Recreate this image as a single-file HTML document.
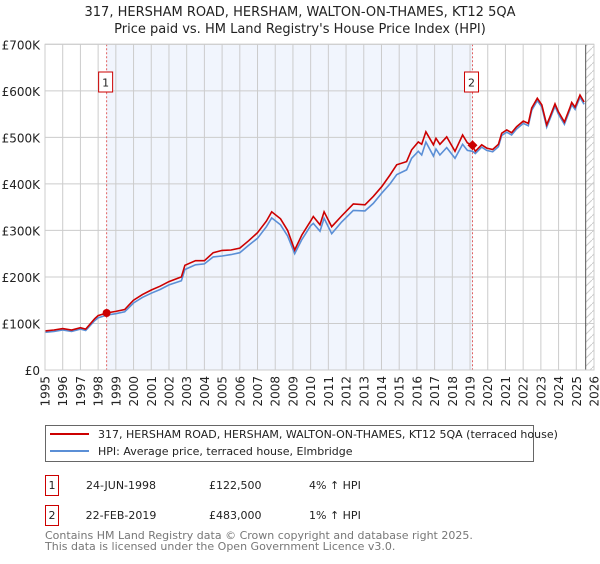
<!DOCTYPE html>
<html><head><meta charset="utf-8"><style>
body{margin:0;background:#fff;width:600px;height:560px;overflow:hidden;font-family:"DejaVu Sans","Liberation Sans",sans-serif;}
svg text{font-family:"DejaVu Sans","Liberation Sans",sans-serif;}
</style></head><body>
<svg id="chart" width="600" height="560" xmlns="http://www.w3.org/2000/svg"></svg>
<script>
const years = [1995.0,1995.5,1996.0,1996.5,1997.0,1997.3,1997.8,1998.0,1998.48,1999.0,1999.5,2000.0,2000.5,2001.0,2001.5,2002.0,2002.7,2002.9,2003.5,2004.0,2004.5,2005.0,2005.5,2006.0,2006.5,2007.0,2007.5,2007.8,2008.3,2008.7,2009.1,2009.5,2010.0,2010.15,2010.53,2010.76,2011.19,2011.75,2012.41,2013.07,2013.54,2014.01,2014.48,2014.86,2015.42,2015.7,2016.08,2016.27,2016.51,2016.93,2017.08,2017.3,2017.68,2018.15,2018.58,2018.85,2019.14,2019.3,2019.66,2019.94,2020.28,2020.6,2020.79,2021.07,2021.35,2021.63,2022.01,2022.29,2022.48,2022.8,2023.05,2023.33,2023.52,2023.8,2023.99,2024.33,2024.65,2024.74,2024.93,2025.21,2025.44];
const priceSeries = [84,86,89,86,91,88,110,117,122.5,126,130,150,162,172,180,190,200,225,235,235,252,257,258,262,278,295,320,340,325,300,258,290,320,330,312,340,308,331,357,355,373,394,419,441,448,473,490,485,512,484,498,485,501,470,505,488,483,470,484,477,474,485,509,516,510,523,535,530,563,584,570,527,545,572,555,533,565,575,565,591,576];
const hpiSeries = [81,83,86,83,88,85,106,112,118,121,125,144,156,165,173,183,192,216,226,228,243,245,248,252,268,283,308,327,312,288,250,280,310,315,298,326,293,318,343,342,358,380,400,420,430,455,470,462,490,460,475,462,478,455,485,472,470,465,479,472,469,480,504,511,505,518,530,525,558,579,565,522,540,567,550,528,560,570,560,586,571];
const yTicks = [0,100,200,300,400,500,600,700];
const yTickLabels = ["£0","£100K","£200K","£300K","£400K","£500K","£600K","£700K"];
const xTickYears = [1995,1996,1997,1998,1999,2000,2001,2002,2003,2004,2005,2006,2007,2008,2009,2010,2011,2012,2013,2014,2015,2016,2017,2018,2019,2020,2021,2022,2023,2024,2025,2026];
const saleYears = [1998.48,2019.14];
const salePrices = [122.5,483];
const saleLabels = ["1","2"];

const NS="http://www.w3.org/2000/svg";
const svg=document.getElementById('chart');
const X0=45,X1=594,Y0=370,Y1=44.3;
const xs=y=>X0+(y-1995)/(2026-1995)*(X1-X0);
const ys=v=>Y0-v/700*(Y0-Y1);
function mk(tag,attrs,parent){const e=document.createElementNS(NS,tag);for(const k in attrs)e.setAttribute(k,attrs[k]);(parent||svg).appendChild(e);return e;}

let t=mk('text',{x:300,y:16,'text-anchor':'middle','font-size':'13',fill:'#222'});t.textContent="317, HERSHAM ROAD, HERSHAM, WALTON-ON-THAMES, KT12 5QA";


t=mk('text',{x:300,y:33,'text-anchor':'middle','font-size':'13',fill:'#222'});t.textContent="Price paid vs. HM Land Registry's House Price Index (HPI)";



let r=mk('rect',{x:xs(saleYears[0]),y:Y1,width:xs(saleYears[1])-xs(saleYears[0]),height:Y0-Y1,fill:'#eef3fd',opacity:0.8});



const defs=mk('defs',{});
const pat=mk('pattern',{id:'hatch',width:8,height:8,patternUnits:'userSpaceOnUse'},defs);
mk('path',{d:'M0,8 L8,0',stroke:'#ccc','stroke-width':1},pat);
const hx=xs(2025.53);
r=mk('rect',{x:hx,y:Y1,width:X1-hx,height:Y0-Y1,fill:'url(#hatch)'});



yTicks.forEach((v,i)=>{
  const l=mk('line',{x1:X0,x2:X1,y1:ys(v),y2:ys(v),stroke:'#cccccc','stroke-width':1});
  
  
  const tx=mk('text',{x:40,y:ys(v)+5,'text-anchor':'end','font-size':'12',fill:'#222'});tx.textContent=yTickLabels[i];
  
  
});
xTickYears.forEach(yr=>{
  const x=xs(yr);
  const l=mk('line',{x1:x,x2:x,y1:Y1,y2:Y0,stroke:'#cccccc','stroke-width':1});
  
  
  const tx=mk('text',{x:x+4.5,y:376,'text-anchor':'end','font-size':'12',fill:'#222',transform:`rotate(-90 ${x+4.5} 376)`});tx.textContent=yr;
  
  
});
let l=mk('line',{x1:hx,x2:hx,y1:Y1,y2:Y0,stroke:'#555','stroke-width':1});



saleYears.forEach((yr,i)=>{
  const ln=mk('line',{x1:xs(yr),x2:xs(yr),y1:Y1,y2:Y0,stroke:'#e06060','stroke-width':1,'stroke-dasharray':'2,2'});
  
  
  const bx=mk('rect',{x:xs(yr)-8,y:72,width:14,height:20,fill:'#fff',stroke:'#cc0000','stroke-width':1});
  
  
  const tx=mk('text',{x:xs(yr)-1,y:86.5,'text-anchor':'middle','font-size':'11',fill:'#222'});tx.textContent=saleLabels[i];
  
  
});

const pts=arr=>arr.map((v,i)=>xs(years[i]).toFixed(1)+','+ys(v).toFixed(1)).join(' ');
let p=mk('polyline',{points:pts(hpiSeries),fill:'none',stroke:'#5b8fd6','stroke-width':1.6});


p=mk('polyline',{points:pts(priceSeries),fill:'none',stroke:'#cc0000','stroke-width':1.6});



let c=mk('circle',{cx:xs(saleYears[0]),cy:ys(salePrices[0]),r:4,fill:'#cc0000'});


const sx=xs(saleYears[1]),sy=ys(salePrices[1]);
c=mk('polygon',{points:`${sx},${sy-5} ${sx+5},${sy} ${sx},${sy+5} ${sx-5},${sy}`,fill:'#cc0000'});



r=mk('rect',{x:X0,y:Y1,width:X1-X0,height:Y0-Y1,fill:'none',stroke:'#cccccc','stroke-width':1});



const lg=mk('g',{});


mk('rect',{x:45.5,y:425.5,width:488,height:36,fill:'#fff',stroke:'#666','stroke-width':1},lg);
let le=mk('g',{},lg);


mk('line',{x1:50,x2:89,y1:434,y2:434,stroke:'#cc0000','stroke-width':2},le);
t=mk('text',{x:98,y:438,'font-size':'11',fill:'#222'},le);t.textContent="317, HERSHAM ROAD, HERSHAM, WALTON-ON-THAMES, KT12 5QA (terraced house)";
le=mk('g',{},lg);


mk('line',{x1:50,x2:89,y1:451,y2:451,stroke:'#5b8fd6','stroke-width':2},le);
t=mk('text',{x:98,y:455,'font-size':'11',fill:'#222'},le);t.textContent="HPI: Average price, terraced house, Elmbridge";

const rows=[["1","24-JUN-1998","£122,500","4% ↑ HPI"],["2","22-FEB-2019","£483,000","1% ↑ HPI"]];
rows.forEach((rw,i)=>{
  const g=mk('g',{});
  
  
  const y0=475+i*30;
  mk('rect',{x:45.5,y:y0+0.5,width:13,height:20,fill:'#fff',stroke:'#cc0000','stroke-width':1},g);
  let tt=mk('text',{x:52,y:y0+14,'text-anchor':'middle','font-size':'11',fill:'#222'},g);tt.textContent=rw[0];
  tt=mk('text',{x:121,y:y0+14,'text-anchor':'middle','font-size':'11',fill:'#222'},g);tt.textContent=rw[1];
  tt=mk('text',{x:209,y:y0+14,'font-size':'11',fill:'#222'},g);tt.textContent=rw[2];
  tt=mk('text',{x:309,y:y0+14,'font-size':'11',fill:'#222'},g);tt.textContent=rw[3];
});
t=mk('text',{x:45,y:539,'font-size':'11',fill:'#777'});t.textContent="Contains HM Land Registry data © Crown copyright and database right 2025.";


t=mk('text',{x:45,y:550,'font-size':'11',fill:'#777'});t.textContent="This data is licensed under the Open Government Licence v3.0.";


</script>
</body></html>
